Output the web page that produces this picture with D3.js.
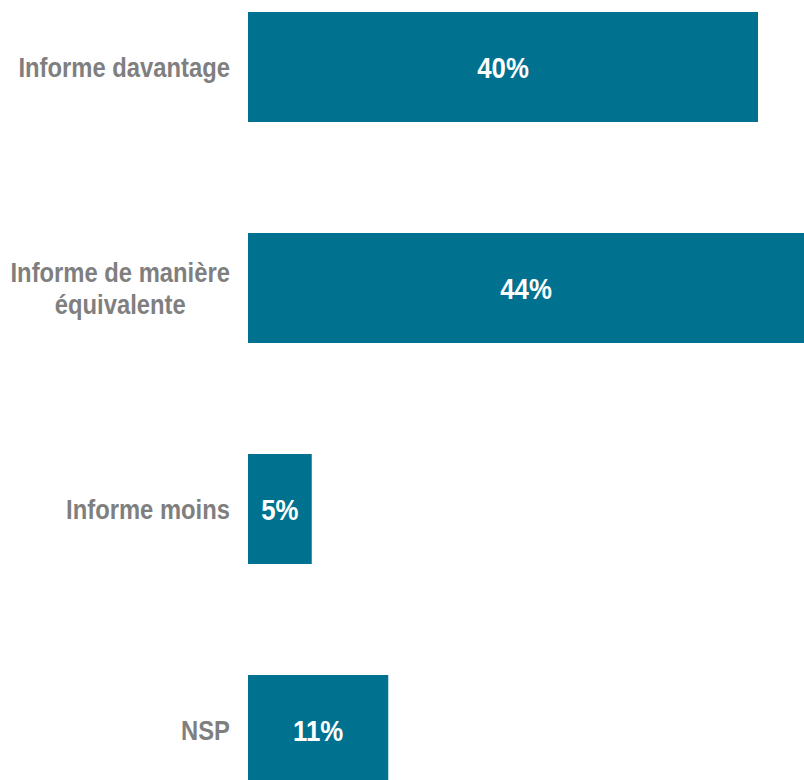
<!DOCTYPE html>
<head>
<meta charset="utf-8">
<script src="https://d3js.org/d3.v7.min.js"></script>
<style>
body {
  margin: 0;
  background-color: #fff;
  overflow: hidden;
}
text {
  font-family: "Liberation Sans", Arial, sans-serif;
  font-weight: bold;
}
.cat {
  fill: #7f7f7f;
  font-size: 28px;
}
.val {
  fill: #fff;
  font-size: 30px;
}
</style>
</head>
<body>
<svg width="804" height="780"></svg>
<script>

var categories = [["Informe davantage"], ["Informe de manière", "équivalente"], ["Informe moins"], ["NSP"]];
var values = [40, 44, 5, 11];

var svg = d3.select("svg");
var width = 804, height = 780;

// no narrow font installed -> squeeze horizontally
var catScale = 0.85, valScale = 0.86;

var x = d3.scaleLinear().domain([0, 40]).range([248, 758]);
var y = d3.scaleBand()
    .domain(d3.range(values.length))
    .range([12, 785])
    .paddingInner(111 / 221)
    .paddingOuter(0);

var rows = svg.selectAll("g.row")
  .data(values)
  .enter().append("g")
  .attr("class", "row");

rows.append("rect")
    .attr("x", x(0))
    .attr("y", function(d, i) { return y(i); })
    .attr("width", function(d) { return x(d) - x(0); })
    .attr("height", y.bandwidth())
    .attr("fill", "#00728f");

rows.append("text")
    .attr("class", "val")
    .attr("text-anchor", "middle")
    .attr("dy", "0.36em")
    .attr("transform", function(d, i) {
      var cx = (x(0) + Math.min(x(d), width)) / 2;
      return "translate(" + cx + "," + (y(i) + y.bandwidth() / 2) + ") scale(" + valScale + ",1)";
    })
    .text(function(d) { return d + "%"; });

var labels = rows.append("text")
    .attr("class", "cat")
    .attr("text-anchor", "middle");

labels.each(function(d, i) {
  var lines = categories[i];
  var el = d3.select(this);
  var lh = 32;
  lines.forEach(function(t, j) {
    el.append("tspan")
      .attr("x", 0)
      .attr("y", (j - (lines.length - 1) / 2) * lh)
      .attr("dy", "0.36em")
      .text(t);
  });
  // right edge of the text block sits at 230
  var w = this.getBBox().width;
  el.attr("transform", "translate(" + (230 - catScale * w / 2) + "," + (y(i) + y.bandwidth() / 2) + ") scale(" + catScale + ",1)");
});

</script>
</body>
